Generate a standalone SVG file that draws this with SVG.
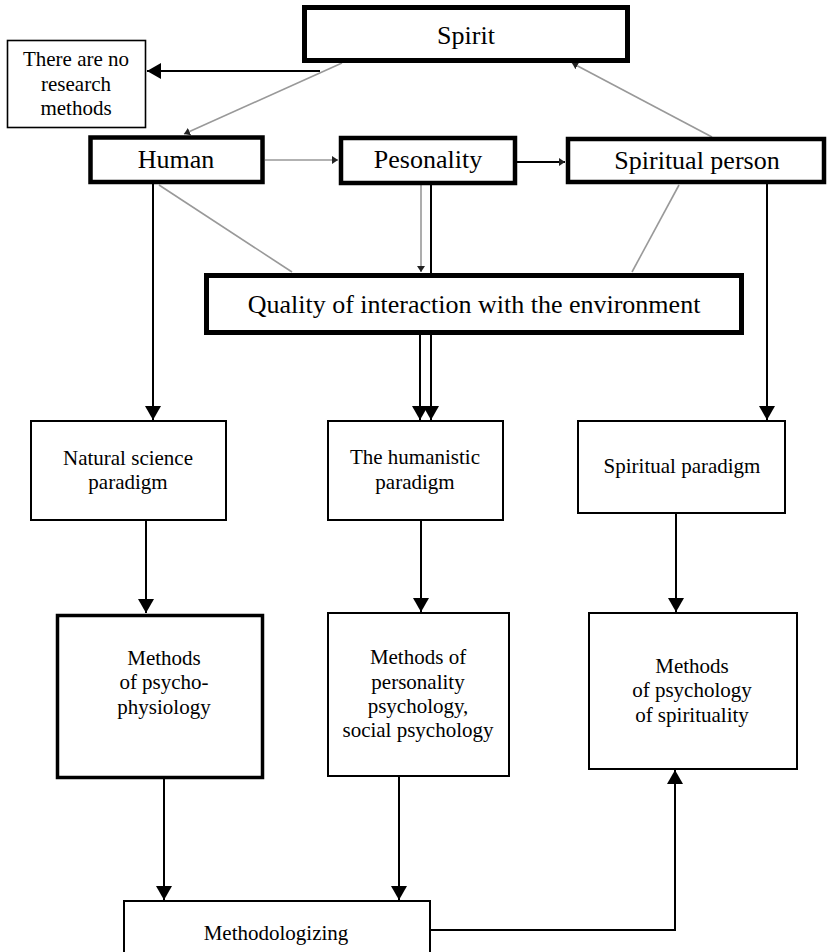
<svg xmlns="http://www.w3.org/2000/svg" width="828" height="952" viewBox="0 0 828 952">
<defs>
<marker id="ah" markerUnits="userSpaceOnUse" markerWidth="16" markerHeight="16" refX="14" refY="8" orient="auto">
<path d="M0,0 L14,8 L0,16 z" fill="#000"/>
</marker>
<marker id="ahs" markerUnits="userSpaceOnUse" markerWidth="8" markerHeight="10" refX="6" refY="5" orient="auto">
<path d="M0,1 L6,5 L0,9 z" fill="#222"/>
</marker>
<style>
.thick{fill:#fff;stroke:#000;stroke-width:4.5}
.thin{fill:#fff;stroke:#000;stroke-width:2}
text{font-family:'Liberation Serif','DejaVu Serif',serif;text-anchor:middle;fill:#000}
.big{font-size:26px}
.sm{font-size:21px}
.bl{fill:none;stroke:#000;stroke-width:2}
.gr{fill:none;stroke:#999;stroke-width:1.6}
</style>
</defs>
<rect width="828" height="952" fill="#fff"/>
<g id="connectors">
<line class="bl" x1="320" y1="71" x2="147" y2="71" marker-end="url(#ah)"/>
<line class="gr" x1="342" y1="63" x2="184" y2="134" marker-end="url(#ahs)"/>
<line class="gr" x1="712" y1="137" x2="572" y2="63" marker-end="url(#ahs)"/>
<line class="gr" x1="265" y1="160" x2="338" y2="160" marker-end="url(#ahs)"/>
<line class="bl" x1="517" y1="162" x2="565" y2="162" marker-end="url(#ahs)"/>
<line class="bl" x1="153" y1="184" x2="153" y2="420" marker-end="url(#ah)"/>
<line class="gr" x1="159" y1="185" x2="292" y2="272"/>
<line class="gr" x1="679" y1="185" x2="632" y2="272"/>
<line class="gr" x1="421" y1="185" x2="421" y2="272" marker-end="url(#ahs)"/>
<line class="bl" x1="431" y1="185" x2="431" y2="420" marker-end="url(#ah)"/>
<line class="bl" x1="420" y1="335" x2="420" y2="420" marker-end="url(#ah)"/>
<line class="bl" x1="767" y1="184" x2="767" y2="420" marker-end="url(#ah)"/>
<line class="bl" x1="146" y1="520" x2="146" y2="613" marker-end="url(#ah)"/>
<line class="bl" x1="421" y1="520" x2="421" y2="612" marker-end="url(#ah)"/>
<line class="bl" x1="676" y1="513" x2="676" y2="612" marker-end="url(#ah)"/>
<line class="bl" x1="164" y1="778" x2="164" y2="900" marker-end="url(#ah)"/>
<line class="bl" x1="399" y1="776" x2="399" y2="900" marker-end="url(#ah)"/>
<polyline class="bl" points="430,930 675,930 675,770" marker-end="url(#ah)"/>
</g>
<g id="spirit">
<rect class="thick" x="304.5" y="7.5" width="323" height="53" style="stroke-width:5"/>
<text class="big" x="466" y="44">Spirit</text>
</g>
<g id="no-methods">
<rect x="7.5" y="40.5" width="138" height="87" fill="#fff" stroke="#000" stroke-width="1.6"/>
<text class="sm" x="76" y="66">There are no</text>
<text class="sm" x="76" y="91">research</text>
<text class="sm" x="76" y="115">methods</text>
</g>
<g id="human">
<rect class="thick" x="90.5" y="137.5" width="172" height="44.5"/>
<text class="big" x="176" y="168">Human</text>
</g>
<g id="pesonality">
<rect class="thick" x="341" y="138" width="174" height="45"/>
<text class="big" x="428" y="168">Pesonality</text>
</g>
<g id="spiritual-person">
<rect class="thick" x="568" y="139" width="256" height="43"/>
<text class="big" x="697" y="169">Spiritual person</text>
</g>
<g id="quality">
<rect class="thick" x="206.5" y="275.5" width="535" height="57" style="stroke-width:5"/>
<text class="big" x="474" y="313">Quality of interaction with the environment</text>
</g>
<g id="natural-science">
<rect class="thin" x="31" y="421" width="195" height="99"/>
<text class="sm" x="128" y="465">Natural science</text>
<text class="sm" x="128" y="489">paradigm</text>
</g>
<g id="humanistic">
<rect class="thin" x="328" y="421" width="175" height="99"/>
<text class="sm" x="415" y="464">The humanistic</text>
<text class="sm" x="415" y="489">paradigm</text>
</g>
<g id="spiritual-paradigm">
<rect class="thin" x="578" y="421" width="207" height="92"/>
<text class="sm" x="682" y="473">Spiritual paradigm</text>
</g>
<g id="methods-psychophysiology">
<rect class="thin" x="57.5" y="615.5" width="205" height="162" style="stroke-width:3.5"/>
<text class="sm" x="164" y="665">Methods</text>
<text class="sm" x="164" y="689">of psycho-</text>
<text class="sm" x="164" y="714">physiology</text>
</g>
<g id="methods-personality">
<rect class="thin" x="328" y="613" width="181" height="163"/>
<text class="sm" x="418" y="664">Methods of</text>
<text class="sm" x="418" y="689">personality</text>
<text class="sm" x="418" y="713">psychology,</text>
<text class="sm" x="418" y="737">social psychology</text>
</g>
<g id="methods-spirituality">
<rect class="thin" x="589" y="613" width="208" height="156"/>
<text class="sm" x="692" y="673">Methods</text>
<text class="sm" x="692" y="697">of psychology</text>
<text class="sm" x="692" y="722">of spirituality</text>
</g>
<g id="methodologizing">
<rect class="thin" x="124" y="901" width="306" height="70"/>
<text class="sm" x="276" y="940">Methodologizing</text>
</g>
</svg>
